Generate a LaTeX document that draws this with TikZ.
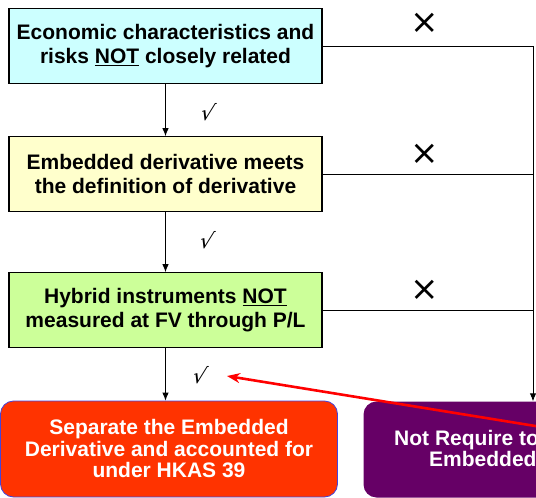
\documentclass[tikz,border=0pt]{standalone}
\usepackage{fontspec}
\setmainfont{Liberation Sans}
\newfontfamily\symfont{DejaVu Sans}
\newfontfamily\slsymfont[FakeSlant=0.25]{DejaVu Sans}
\usetikzlibrary{arrows.meta}

\definecolor{cyanfill}{HTML}{CCFFFF}
\definecolor{yellowfill}{HTML}{FFFFCC}
\definecolor{greenfill}{HTML}{CCFF99}
\definecolor{sepred}{HTML}{FF3300}
\definecolor{sepedge}{HTML}{4444DD}
\definecolor{notreqpurple}{HTML}{660066}

\tikzset{
  stepbox/.style={draw=black, line width=1.2pt, minimum width=313pt,
    minimum height=74.5pt, inner sep=0pt, align=center,
    font=\fontsize{21}{24}\selectfont\bfseries},
  outcome/.style={rounded corners=13pt, minimum width=337pt, minimum height=96pt,
    inner sep=0pt, align=center, text=white,
    font=\fontsize{21}{21.5}\selectfont\bfseries},
  outtext/.style={text=white, inner sep=0pt, font=\fontsize{21}{21.5}\selectfont\bfseries},
  link/.style={line width=0.9pt, draw=black},
  flow/.style={link, -{Latex[length=8pt,width=6.5pt]}},
  cross/.style={inner sep=0pt, font=\symfont\fontsize{34}{34}\selectfont},
  tick/.style={inner sep=0pt, font=\slsymfont\fontsize{21}{21}\selectfont},
  pointer/.style={draw=red, line width=2.6pt, -{Stealth[length=13pt,width=10pt]}},
}

\begin{document}
\begin{tikzpicture}[x=1pt,y=-1pt]
\useasboundingbox (0,0) rectangle (536,498);
\clip (0,0) rectangle (536,498);

% decision steps
\node[stepbox, fill=cyanfill] (econ) at (165.5,46)
  {Economic characteristics and\\risks \underline{NOT} closely related};
\node[stepbox, fill=yellowfill] (deriv) at (165.5,174)
  {Embedded derivative meets\\the definition of derivative};
\node[stepbox, fill=greenfill] (hybrid) at (165.5,310)
  {Hybrid instruments \underline{NOT}\\measured at FV through P/L};

% outcomes
\node[outcome, fill=sepred, draw=sepedge, line width=0.8pt] (sep) at (169,449)
  {Separate the Embedded\\Derivative and accounted for\\under HKAS 39};
\node[outcome, fill=notreqpurple] (notreq) at (532,449.5) {};
\node[outtext, anchor=base west] (notreqA) at (394,445) {Not Require to};
\node[outtext, anchor=base west] (notreqB) at (429,466) {Embedded};

% "yes" path
\draw[flow] (econ.south) -- (deriv.north);
\draw[flow] (deriv.south) -- (hybrid.north);
\draw[flow] (hybrid.south) -- (hybrid.south |- sep.north);

% "no" path
\coordinate (rail) at (533,46);
\draw[link] (econ.east) -- (rail);
\draw[flow] (rail) -- (rail |- notreq.north);
\draw[link] (deriv.east) -- (deriv.east -| rail);
\draw[link] (hybrid.east) -- (hybrid.east -| rail);

% marks
\node[cross] (x1) at (425,23) {×};
\node[cross] (x2) at (425,154) {×};
\node[cross] (x3) at (425,290) {×};
\node[tick] (t1) at (206,112) {√};
\node[tick] (t2) at (205,240) {√};
\node[tick] (t3) at (198,375) {√};

% red pointer
\coordinate (ptail) at (560,430);
\coordinate (ptip) at (227,376);
\draw[pointer] (ptail) -- (ptip);
\end{tikzpicture}
\end{document}
